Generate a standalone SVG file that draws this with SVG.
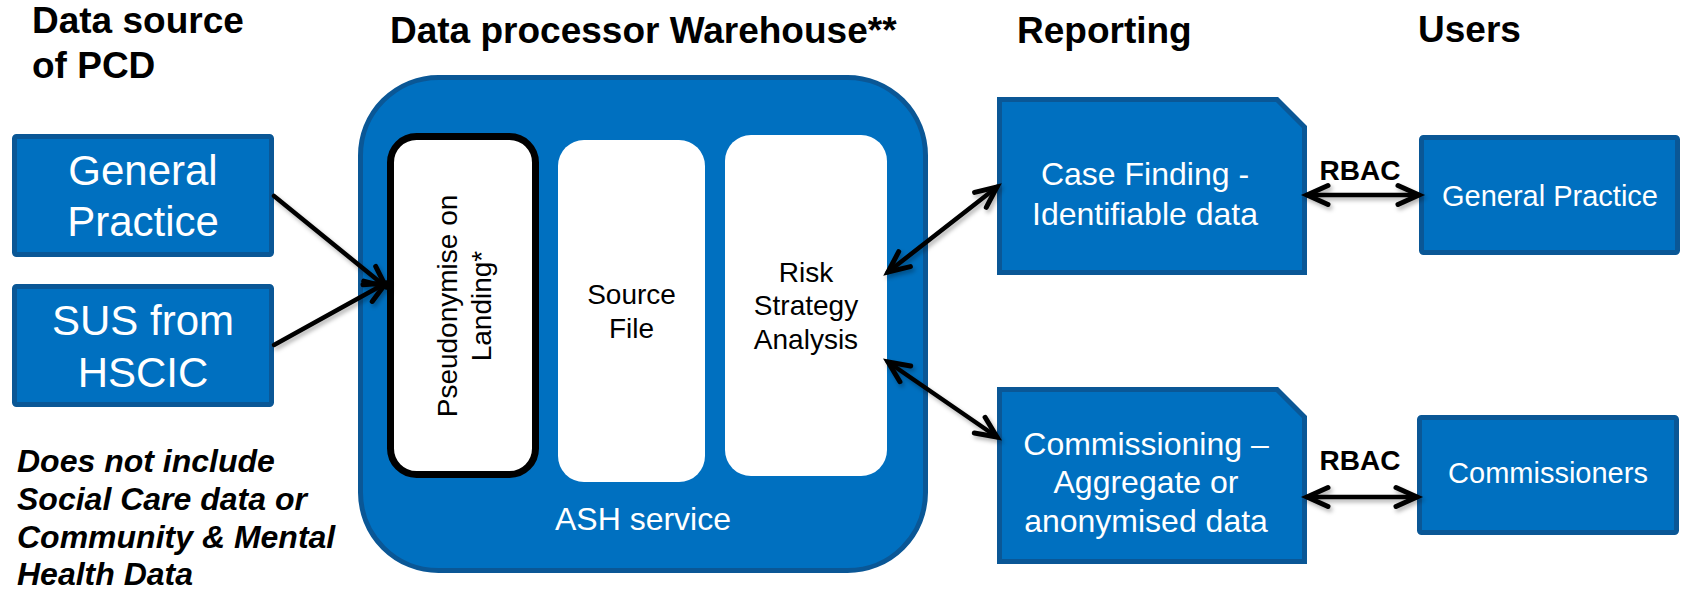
<svg xmlns="http://www.w3.org/2000/svg" width="1683" height="590" viewBox="0 0 1683 590">
  <style>
    text { font-family: "Liberation Sans", Arial, sans-serif; }
    .title { font-size: 37px; font-weight: bold; fill: #000; }
    .note { font-size: 32px; font-weight: bold; font-style: italic; fill: #000; }
    .blue { fill: #0070C0; stroke: #0A5796; stroke-width: 5; }
    .wbig { font-size: 42px; fill: #fff; text-anchor: middle; }
    .wmid { font-size: 32px; fill: #fff; text-anchor: middle; }
    .wsm { font-size: 29px; fill: #fff; text-anchor: middle; }
    .inner { font-size: 28px; fill: #000; text-anchor: middle; }
    .rbac { font-size: 28px; font-weight: bold; fill: #000; text-anchor: middle; }
    .conn { fill: none; stroke: #000; stroke-width: 4.5; stroke-linecap: round; }
  </style>
  <defs>
    <marker id="chev" markerUnits="userSpaceOnUse" viewBox="0 0 30 26" markerWidth="30" markerHeight="26" refX="25" refY="13" orient="auto-start-reverse" overflow="visible">
      <path d="M4,3.5 L25,13 L4,22.5" fill="none" stroke="#000" stroke-width="5" stroke-linecap="round" stroke-linejoin="miter"/>
    </marker>
    <filter id="shadow" filterUnits="userSpaceOnUse" x="0" y="0" width="1683" height="590">
      <feDropShadow dx="2" dy="3" stdDeviation="2" flood-color="#000" flood-opacity="0.3"/>
    </filter>
  </defs>

  <!-- column headings -->
  <g id="headings">
    <text class="title" x="32" y="33">Data source</text>
    <text class="title" x="32" y="78">of PCD</text>
    <text class="title" x="390" y="43">Data processor Warehouse**</text>
    <text class="title" x="1017" y="43">Reporting</text>
    <text class="title" x="1418" y="42">Users</text>
  </g>

  <!-- data sources -->
  <g id="src-gp">
    <rect class="blue" x="14.5" y="136.5" width="257" height="118" rx="2"/>
    <text class="wbig" x="143" y="185">General</text>
    <text class="wbig" x="143" y="236">Practice</text>
  </g>
  <g id="src-sus">
    <rect class="blue" x="14.5" y="286.5" width="257" height="118" rx="2"/>
    <text class="wbig" x="143" y="335">SUS from</text>
    <text class="wbig" x="143" y="387">HSCIC</text>
  </g>

  <g id="note">
    <text class="note" x="17" y="472">Does not include</text>
    <text class="note" x="17" y="510">Social Care data or</text>
    <text class="note" x="17" y="548">Community &amp; Mental</text>
    <text class="note" x="17" y="585">Health Data</text>
  </g>

  <!-- warehouse container -->
  <g id="ash-service">
    <rect class="blue" x="360.5" y="77.5" width="565" height="493" rx="78"/>
    <text class="wmid" x="643" y="530">ASH service</text>
  </g>
  <g id="pseudonymise">
    <rect x="390.5" y="136.5" width="145" height="338" rx="26" fill="#fff" stroke="#000" stroke-width="7"/>
    <text class="inner" transform="translate(457,306) rotate(-90)">Pseudonymise on</text>
    <text class="inner" transform="translate(491,306) rotate(-90)">Landing*</text>
  </g>
  <g id="source-file">
    <rect x="558" y="140" width="147" height="342" rx="26" fill="#fff"/>
    <text class="inner" x="631.5" y="304">Source</text>
    <text class="inner" x="631.5" y="338">File</text>
  </g>
  <g id="risk-strategy">
    <rect x="725" y="135" width="162" height="341" rx="26" fill="#fff"/>
    <text class="inner" x="806" y="282">Risk</text>
    <text class="inner" x="806" y="315">Strategy</text>
    <text class="inner" x="806" y="349">Analysis</text>
  </g>

  <!-- reporting outputs -->
  <g id="case-finding">
    <path class="blue" d="M999.5,99.5 H1277 L1304.5,127 V272.5 H999.5 Z"/>
    <text class="wmid" x="1145" y="185">Case Finding -</text>
    <text class="wmid" x="1145" y="225">Identifiable data</text>
  </g>
  <g id="commissioning">
    <path class="blue" d="M999.5,389.5 H1277 L1304.5,417 V561.5 H999.5 Z"/>
    <text class="wmid" x="1146" y="455">Commissioning –</text>
    <text class="wmid" x="1146" y="493">Aggregate or</text>
    <text class="wmid" x="1146" y="532">anonymised data</text>
  </g>

  <!-- users -->
  <g id="user-gp">
    <rect class="blue" x="1421.5" y="137.5" width="256" height="115" rx="2"/>
    <text class="wsm" x="1550" y="206">General Practice</text>
  </g>
  <g id="user-commissioners">
    <rect class="blue" x="1419.5" y="417.5" width="257" height="115" rx="2"/>
    <text class="wsm" x="1548" y="483">Commissioners</text>
  </g>

  <!-- connectors -->
  <g id="connectors" filter="url(#shadow)">
    <line class="conn" x1="274" y1="196" x2="386" y2="287" marker-end="url(#chev)"/>
    <line class="conn" x1="274" y1="345" x2="386" y2="283" marker-end="url(#chev)"/>
    <line class="conn" x1="888" y1="272" x2="997" y2="187" marker-start="url(#chev)" marker-end="url(#chev)"/>
    <line class="conn" x1="888" y1="362" x2="997" y2="437" marker-start="url(#chev)" marker-end="url(#chev)"/>
    <line class="conn" x1="1307" y1="195" x2="1419" y2="195" marker-start="url(#chev)" marker-end="url(#chev)"/>
    <line class="conn" x1="1307" y1="497" x2="1417" y2="497" marker-start="url(#chev)" marker-end="url(#chev)"/>
  </g>
  <g id="connector-labels">
    <text class="rbac" x="1360" y="180">RBAC</text>
    <text class="rbac" x="1360" y="470">RBAC</text>
  </g>
</svg>
